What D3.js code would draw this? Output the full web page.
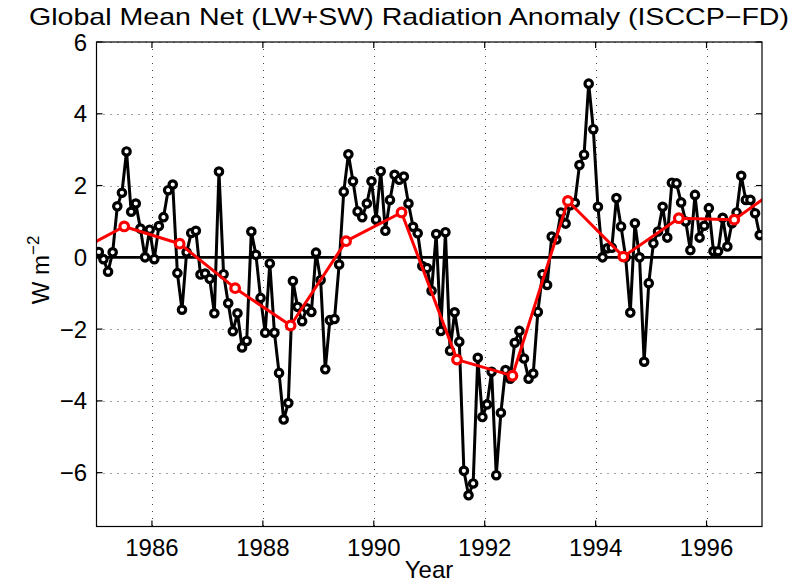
<!DOCTYPE html>
<html>
<head>
<meta charset="utf-8">
<script src="https://cdn.jsdelivr.net/npm/d3@7"></script>
<style>
  body { margin: 0; background: #fff; }
  svg text { font-family: "Liberation Sans", Arial, Helvetica, sans-serif; fill: #000; }
</style>
</head>
<body>
<svg id="chart" width="798" height="583"></svg>
<script>
// monthly global mean net radiation anomaly (W m-2), one array per year
const anom1985 = [0.15, -0.05, -0.4, 0.14, 1.42, 1.8, 2.95, 1.27, 1.5, 0.8, 0.0, 0.77];
const anom1986 = [-0.05, 0.87, 1.12, 1.87, 2.03, -0.44, -1.46, 0.14, 0.68, 0.74, -0.48, -0.45];
const anom1987 = [-0.6, -1.56, 2.39, -0.47, -1.28, -2.06, -1.56, -2.51, -2.33, 0.72, 0.07, -1.13];
const anom1988 = [-2.1, -0.17, -2.1, -3.22, -4.52, -4.06, -0.66, -1.38, -1.78, -1.42, -1.52, 0.13];
const anom1989 = [-0.63, -3.12, -1.75, -1.72, -0.2, 1.83, 2.87, 2.12, 1.28, 1.12, 1.5, 2.12];
const anom1990 = [1.05, 2.4, 0.74, 1.6, 2.3, 2.16, 2.25, 1.5, 0.85, 0.67, -0.24, -0.3];
const anom1991 = [-0.93, 0.65, -2.05, 0.7, -2.6, -1.53, -2.35, -5.95, -6.63, -6.3, -2.8, -4.45];
const anom1992 = [-4.1, -3.19, -6.07, -4.33, -3.14, -3.38, -2.38, -2.05, -2.82, -3.38, -3.24, -1.52];
const anom1993 = [-0.47, -0.77, 0.58, 0.5, 1.25, 0.94, 1.45, 1.52, 2.57, 2.86, 4.84, 3.57];
const anom1994 = [1.41, 0.0, 0.25, 0.27, 1.65, 0.86, 0.0, -1.54, 0.95, 0.0, -2.91, -0.72];
const anom1995 = [0.39, 0.72, 1.41, 0.55, 2.08, 2.06, 1.53, 1.0, 0.2, 1.74, 0.55, 0.88];
const anom1996 = [1.37, 0.17, 0.17, 1.1, 0.3, 0.95, 1.25, 2.27, 1.6, 1.6, 1.23, 0.62];

const startYear = 1985;
const monthly = [anom1985, anom1986, anom1987, anom1988, anom1989, anom1990,
                 anom1991, anom1992, anom1993, anom1994, anom1995, anom1996];

// annual means (red), plotted at mid-year; first and last fall outside the axes
const annualYears = [1984.5, 1985.5, 1986.5, 1987.5, 1988.5, 1989.5, 1990.5,
                     1991.5, 1992.5, 1993.5, 1994.5, 1995.5, 1996.5, 1997.5];
const annualMean = [0.04, 0.86, 0.38, -0.86, -1.9, 0.45, 1.25,
                    -2.85, -3.3, 1.57, 0.02, 1.09, 1.05, 2.15];

const xTicks = [1986, 1988, 1990, 1992, 1994, 1996];
const yTicks = [-6, -4, -2, 0, 2, 4, 6];

const titleText = 'Global Mean Net (LW+SW) Radiation Anomaly (ISCCP\u2212FD)';

// flatten monthly arrays into points at mid-month
const points = [];
monthly.forEach((arr, yi) => {
    arr.forEach((v, m) => points.push({ t: startYear + yi + (m + 0.5) / 12, v: v }));
});
const annual = annualYears.map((t, i) => ({ t: t, v: annualMean[i] }));

const svg = d3.select('#chart');
const plotLeft = 96.5, plotRight = 762, plotTop = 42, plotBottom = 526.5;

const x = d3.scaleLinear().domain([1985, 1997]).range([plotLeft, plotRight]);
const y = d3.scaleLinear().domain([-7.5, 6]).range([plotBottom, plotTop]);

svg.append('defs').append('clipPath').attr('id', 'plotclip')
    .append('rect').attr('x', plotLeft).attr('y', plotTop)
    .attr('width', plotRight - plotLeft).attr('height', plotBottom - plotTop);

// dotted grid
const grid = svg.append('g').attr('stroke', '#444').attr('stroke-width', 1)
    .attr('stroke-dasharray', '1,6');
grid.selectAll('.gx').data(xTicks).enter().append('line')
    .attr('x1', d => Math.round(x(d)) + 0.5).attr('x2', d => Math.round(x(d)) + 0.5)
    .attr('y1', plotTop).attr('y2', plotBottom);
grid.selectAll('.gy').data(yTicks).enter().append('line')
    .attr('y1', d => Math.round(y(d)) + 0.5).attr('y2', d => Math.round(y(d)) + 0.5)
    .attr('x1', plotLeft).attr('x2', plotRight);

const plot = svg.append('g').attr('clip-path', 'url(#plotclip)');

// zero line
plot.append('line')
    .attr('x1', plotLeft).attr('x2', plotRight)
    .attr('y1', y(0)).attr('y2', y(0))
    .attr('stroke', '#000').attr('stroke-width', 2.6);

const line = d3.line().x(d => x(d.t)).y(d => y(d.v));

// monthly series
plot.append('path').datum(points)
    .attr('d', line).attr('fill', 'none')
    .attr('stroke', '#000').attr('stroke-width', 3)
    .attr('stroke-linejoin', 'round');
plot.selectAll('.mk').data(points).enter().append('circle')
    .attr('cx', d => x(d.t)).attr('cy', d => y(d.v)).attr('r', 3.7)
    .attr('fill', '#fff').attr('stroke', '#000').attr('stroke-width', 3.2);

// annual means
plot.append('path').datum(annual)
    .attr('d', line).attr('fill', 'none')
    .attr('stroke', '#ff0000').attr('stroke-width', 3)
    .attr('stroke-linejoin', 'round');
plot.selectAll('.amk').data(annual).enter().append('circle')
    .attr('cx', d => x(d.t)).attr('cy', d => y(d.v)).attr('r', 4.3)
    .attr('fill', '#fff').attr('stroke', '#ff0000').attr('stroke-width', 3.2);

// axes: box with inward ticks on all sides
const axisG = svg.append('g').attr('stroke', '#000').attr('stroke-width', 1.2);
axisG.append('rect').attr('x', plotLeft).attr('y', plotTop)
    .attr('width', plotRight - plotLeft).attr('height', plotBottom - plotTop).attr('fill', 'none');
const tl = 6;
xTicks.forEach(t => {
    axisG.append('line').attr('x1', x(t)).attr('x2', x(t)).attr('y1', plotBottom).attr('y2', plotBottom - tl);
    axisG.append('line').attr('x1', x(t)).attr('x2', x(t)).attr('y1', plotTop).attr('y2', plotTop + tl);
});
yTicks.forEach(t => {
    axisG.append('line').attr('x1', plotLeft).attr('x2', plotLeft + tl).attr('y1', y(t)).attr('y2', y(t));
    axisG.append('line').attr('x1', plotRight).attr('x2', plotRight - tl).attr('y1', y(t)).attr('y2', y(t));
});

// tick labels
svg.selectAll('.xl').data(xTicks).enter().append('text')
    .attr('x', d => x(d)).attr('y', 556)
    .attr('text-anchor', 'middle').attr('font-size', 24)
    .text(d => d);
svg.selectAll('.yl').data(yTicks).enter().append('text')
    .attr('x', 87).attr('y', d => y(d) + 8.5)
    .attr('text-anchor', 'end').attr('font-size', 24)
    .text(d => d < 0 ? '\u2212' + Math.abs(d) : d);

// axis titles
svg.append('text').attr('x', 429).attr('y', 578)
    .attr('text-anchor', 'middle').attr('font-size', 24).text('Year');

const yl = svg.append('text')
    .attr('transform', 'translate(49,270) rotate(-90)')
    .attr('text-anchor', 'middle').attr('font-size', 24);
yl.append('tspan').text('W m');
yl.append('tspan').attr('dy', -10).attr('font-size', 17).text('\u22122');

// title
svg.append('text').attr('x', 409).attr('y', 25)
    .attr('text-anchor', 'middle').attr('font-size', 24)
    .attr('textLength', 760).attr('lengthAdjust', 'spacingAndGlyphs')
    .text(titleText);
</script>
</body>
</html>
